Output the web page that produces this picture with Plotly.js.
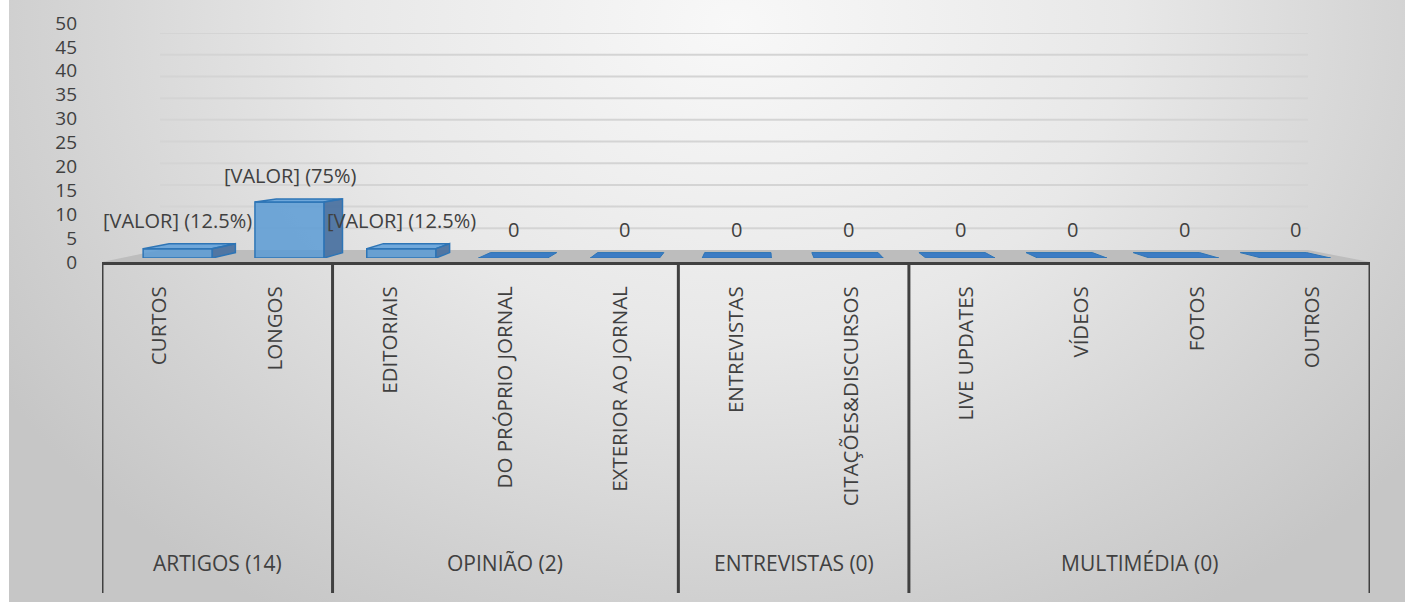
<!DOCTYPE html>
<html>
<head>
<meta charset="utf-8">
<script src="https://cdn.plot.ly/plotly-3.0.1.min.js"></script>
<style>
html,body{margin:0;padding:0;background:#ffffff;}
#wrap{position:relative;width:1405px;height:602px;overflow:hidden;background:#ffffff;}
#bg{position:absolute;left:9px;top:0;width:1396px;height:602px;
  background:radial-gradient(ellipse 62% 115% at 52% 4%, #f8f8f8 0%, #e8e8e8 45%, #d2d2d2 80%, #c6c6c6 100%);}
#chart{position:absolute;left:0;top:0;width:1405px;height:602px;}
</style>
</head>
<body>
<div id="wrap"><div id="bg"></div><div id="chart"></div></div>
<script>
// ---- data ----
const categories = ["CURTOS","LONGOS","EDITORIAIS","DO PRÓPRIO JORNAL","EXTERIOR AO JORNAL","ENTREVISTAS","CITAÇÕES&DISCURSOS","LIVE UPDATES","VÍDEOS","FOTOS","OUTROS"];
const values = [2, 12, 2, 0, 0, 0, 0, 0, 0, 0, 0];
const dataLabels = ["[VALOR] (12.5%)","[VALOR] (75%)","[VALOR] (12.5%)","0","0","0","0","0","0","0","0"];
const groups = ["ARTIGOS (14)","OPINIÃO (2)","ENTREVISTAS (0)","MULTIMÉDIA (0)"];
const groupSizes = [2, 3, 2, 4];
const yTicks = [0, 5, 10, 15, 20, 25, 30, 35, 40, 45, 50];

// ---- style / geometry ----
const FONT = "Open Sans, sans-serif";
const TXT = "#404040";
const idx = categories.map((_, i) => i);
const n = categories.length;
// 3D perspective (in data units of x / y3)
const VPX = 5.226, VPY = 27.6, SFRONT = 0.97, SBACK = 0.958, HW = 0.3;
const fc = idx.map(i => VPX + (i - VPX) * SFRONT);
const bx = x => VPX + (x - VPX) * SBACK;
const by = y => VPY + (y - VPY) * SBACK;

const traces = [];
// invisible trace to keep the main subplot
traces.push({type:'scatter', x:[0], y:[-10], xaxis:'x', yaxis:'y', mode:'markers',
  marker:{opacity:0}, hoverinfo:'skip', showlegend:false});

// front faces
traces.push({
  type:'bar', x: idx, y: values, xaxis:'x', yaxis:'y3',
  offset: idx.map(i => fc[i] - HW - i), width: idx.map(() => 2*HW),
  marker:{color:'rgba(91,155,213,0.85)', line:{color:'#2E75B6', width:1.5}},
  hoverinfo:'skip', showlegend:false
});

// top & side faces
idx.forEach(i => {
  const v = values[i], L = fc[i] - HW, R = fc[i] + HW;
  const topColor = v > 0 ? 'rgba(100,162,218,0.9)' : '#3d7cc4';
  traces.push({type:'scatter', mode:'lines', xaxis:'x', yaxis:'y3',
    x:[L, R, bx(R), bx(L), L], y:[v, v, by(v), by(v), v],
    fill:'toself', fillcolor: topColor, line:{color:'#2E75B6', width: v > 0 ? 1.5 : 1},
    hoverinfo:'skip', showlegend:false});
  if (v > 0) {
    const E = bx(R) > R ? R : L;
    traces.push({type:'scatter', mode:'lines', xaxis:'x', yaxis:'y3',
      x:[E, E, bx(E), bx(E), E], y:[0, v, by(v), by(0), 0],
      fill:'toself', fillcolor:'rgba(72,112,160,0.92)', line:{color:'#2E75B6', width:1.5},
      hoverinfo:'skip', showlegend:false});
  }
});

// shapes: floor, back-wall gridlines, dividers
const shapes = [];
shapes.push({type:'path', xref:'paper', yref:'paper', layer:'below',
  path:'M 0,0 L 1,0 L 0.951,0.0502 L 0.0457,0.0502 Z',
  fillcolor:'#bdbdbd', line:{width:0}});
yTicks.forEach(t => {
  if (t === 0) return;
  shapes.push({type:'line', xref:'paper', yref:'y2', layer:'below',
    x0:0.0457, x1:0.951, y0:t, y1:t, line:{color:'#d4d4d4', width:2}});
});
let start = 0;
const bounds = [-0.5];
groupSizes.forEach(s => { start += s; bounds.push(start - 0.5); });
bounds.forEach(b => {
  shapes.push({type:'line', xref:'x', yref:'paper', x0:b, x1:b, y0:0, y1:-1.385,
    line:{color:'#404040', width:3}});
});

// annotations
const annotations = [];
idx.forEach(i => {
  annotations.push({xref:'x', yref:'y3', x: fc[i], y: by(values[i]), yanchor:'bottom', xanchor:'center',
    yshift: 8, showarrow:false, text: dataLabels[i], font:{family:FONT, size:20, color:TXT}});
});
start = 0;
groups.forEach((g, k) => {
  annotations.push({xref:'x', yref:'paper', x: start + (groupSizes[k]-1)/2, y: -1.259,
    yanchor:'middle', xanchor:'center', showarrow:false, text:g,
    font:{family:FONT, size:21, color:TXT}});
  start += groupSizes[k];
});

const layout = {
  width:1405, height:602,
  margin:{l:102, r:35, t:23, b:340, pad:0},
  paper_bgcolor:'rgba(0,0,0,0)', plot_bgcolor:'rgba(0,0,0,0)',
  showlegend:false, hovermode:false,
  font:{family:FONT, color:TXT},
  xaxis:{domain:[0,1], range:[-0.5, n - 0.5], anchor:'y', tickmode:'array', tickvals: idx, ticktext: categories,
    tickangle:-90, ticks:'', ticklabelstandoff:13, tickfont:{family:FONT, size:20.5, color:TXT},
    showgrid:false, zeroline:false, showline:true, linecolor:'#404040', linewidth:3, fixedrange:true},
  yaxis:{domain:[0,1], range:[0,50], anchor:'x', tickmode:'array', tickvals: yTicks, ticks:'',
    ticklabelstandoff:24, tickfont:{family:FONT, size:19, color:TXT},
    showgrid:false, zeroline:false, showline:false, fixedrange:true},
  yaxis2:{domain:[0.0502, 0.958], range:[0,50], anchor:'x', visible:false, fixedrange:true},
  yaxis3:{domain:[0.0167, 0.9937], range:[0,50], anchor:'x', visible:false, fixedrange:true},
  shapes: shapes,
  annotations: annotations,
  bargap:0
};

Plotly.newPlot('chart', traces, layout, {displayModeBar:false, staticPlot:true});
</script>
</body>
</html>
